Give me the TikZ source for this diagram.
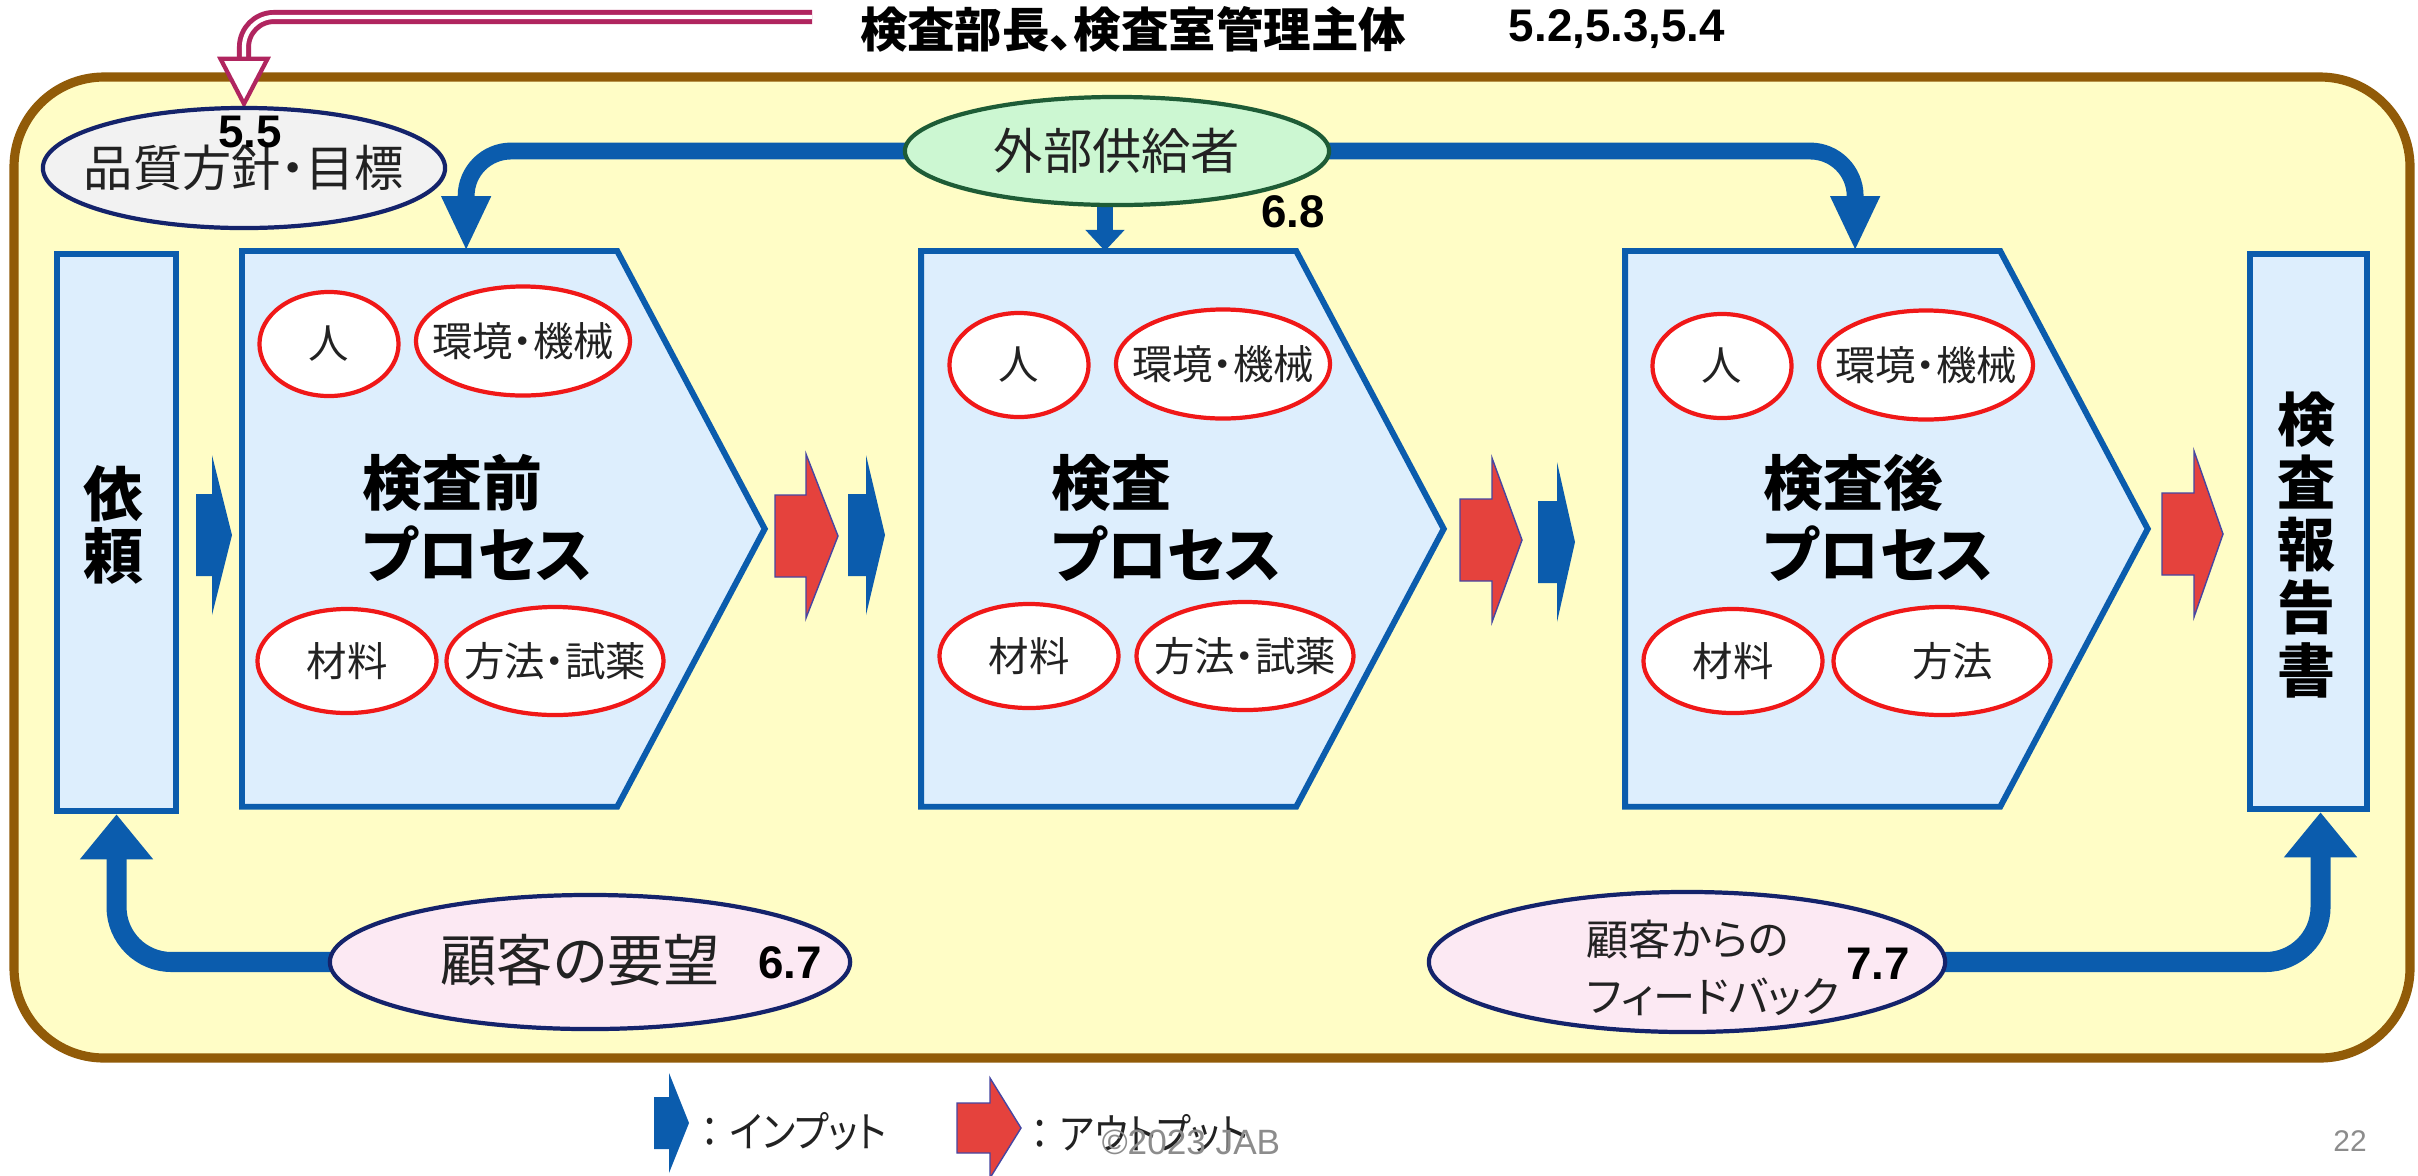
\documentclass[tikz,border=0pt]{standalone}
\usepackage{fontspec}
\setmainfont{Liberation Sans}
\newfontfamily\jp{Noto Sans CJK JP}[RawFeature=+palt]
\newfontfamily\jpn{Noto Sans CJK JP}[RawFeature=+palt, FakeStretch=0.88]
\usetikzlibrary{arrows.meta,calc,shapes.geometric}
\pgfdeclarelayer{bg}
\pgfdeclarelayer{conn}
\pgfsetlayers{bg,conn,main}
\definecolor{brownc}{HTML}{915B08}
\definecolor{yellowc}{HTML}{FFFDC6}
\definecolor{bluec}{HTML}{0B5CAD}
\definecolor{procfill}{HTML}{DDEEFD}
\definecolor{redc}{HTML}{F01818}
\definecolor{redarrc}{HTML}{E5423D}
\definecolor{navy}{HTML}{14236B}
\definecolor{grayfill}{HTML}{F2F2F2}
\definecolor{greenfill}{HTML}{CCF7D2}
\definecolor{greenc}{HTML}{1E5C36}
\definecolor{pinkfill}{HTML}{FCE9F3}
\definecolor{pinkc}{HTML}{B0255F}
\definecolor{grayt}{HTML}{8C8C8C}
\definecolor{textc}{HTML}{222222}
% block arrow: style, x left, y centre, body width, total width, body half height, head half height
\newcommand\blockarrow[7]{%
  \path[#1] (#2,{#3-#6}) -- ({#2+#4},{#3-#6}) -- ({#2+#4},{#3-#7}) -- ({#2+#5},#3)
    -- ({#2+#4},{#3+#7}) -- ({#2+#4},{#3+#6}) -- (#2,{#3+#6}) -- cycle;}
\newcommand\procshape[2]{%
  \node[procbody] (#1) at (#2,251) {};
  \draw[procline] (#1.north west) -- ([xshift=3.75cm]#1.north west) -- (#1.east)
    -- ([xshift=3.75cm]#1.south west) -- (#1.south west) -- cycle;}
\begin{document}
\begin{tikzpicture}[x=0.01cm,y=-0.01cm,
  outerbox/.style={draw=brownc, line width=2.6pt, fill=yellowc, rounded corners=0.9cm},
  procline/.style={draw=bluec, line width=1.7pt, fill=procfill, line join=miter},
  procbody/.style={anchor=north west, minimum width=5.21cm, minimum height=5.54cm, inner sep=0pt},
  sidebox/.style={draw=bluec, line width=1.7pt, fill=procfill, anchor=north west, inner sep=0pt},
  factor/.style={ellipse, draw=redc, line width=1.2pt, fill=white, inner xsep=-20pt, inner ysep=-8pt,
    text=textc, font=\jp\fontsize{11.5pt}{13pt}\selectfont},
  hito/.style={factor, minimum width=1.39cm, minimum height=1.04cm},
  env/.style={factor, minimum width=2.14cm, minimum height=1.09cm},
  mat/.style={factor, minimum width=1.79cm, minimum height=1.04cm},
  meth/.style={factor, minimum width=2.17cm, minimum height=1.08cm},
  bigell/.style={ellipse, line width=1.2pt, inner xsep=-20pt, inner ysep=-8pt, text=textc},
  proctext/.style={anchor=west, align=left, inner sep=0pt, font=\jp\bfseries\fontsize{17pt}{20.5pt}\selectfont},
  vtext/.style={align=center, inner sep=0pt, font=\jp\bfseries\fontsize{17pt}{17.7pt}\selectfont},
  num/.style={font=\bfseries\fontsize{13pt}{15pt}\selectfont, inner sep=0pt},
  titlet/.style={font=\jp\bfseries\fontsize{13.5pt}{15pt}\selectfont, inner sep=0pt},
  legend/.style={anchor=west, inner sep=0pt, text=textc, font=\jpn\fontsize{12pt}{14pt}\selectfont},
  bluearr/.style={fill=bluec},
  redarr/.style={fill=redarrc, draw=black!20!blue!45!gray, line width=0.4pt},
  bluecon/.style={draw=bluec, line width=4.8pt, rounded corners=0.45cm,
    -{Triangle[width=13pt,length=15.6pt]}},
  smallcon/.style={draw=bluec, line width=4.5pt, -{Triangle[width=10.8pt,length=6pt]}},
  bottomcon/.style={draw=bluec, line width=5.7pt, rounded corners=0.55cm,
    -{Triangle[width=20pt,length=12.8pt]}},
  pinkdouble/.style={draw=pinkc, double=white, line width=1.4pt, double distance=1.2pt, rounded corners=0.3cm}
]
\useasboundingbox (0,0) rectangle (2418,1175);
\begin{pgfonlayer}{bg}
  \fill[white] (0,0) rectangle (2418,1175);
  \draw[outerbox] (14,77) rectangle (2410,1058);
\end{pgfonlayer}

% title
\node[titlet] (title) at (1133,29) {検査部長、検査室管理主体};
\node[num] (n52) at (1617,29) {5.2,5.3,5.4};
\coordinate (pinkstart) at (812,17);

% policy and supplier
\node[bigell, draw=navy, fill=grayfill, minimum width=4.02cm, minimum height=1.2cm,
  font=\jp\fontsize{14pt}{16pt}\selectfont] (policy) at (244,168) {品質方針・目標};
\node[num] (n55) at (250,132) {5.5};
\node[bigell, draw=greenc, fill=greenfill, minimum width=4.24cm, minimum height=1.08cm,
  font=\jp\fontsize{14pt}{16pt}\selectfont] (supplier) at (1117,151) {外部供給者};
\node[num] (n68) at (1293,212) {6.8};

% side boxes
\node[sidebox, minimum width=1.19cm, minimum height=5.57cm] (req) at (54,251) {};
\node[vtext] (reqtext) at (113,525) {依\\頼};
\node[sidebox, minimum width=1.17cm, minimum height=5.55cm] (report) at (2247,251) {};
\node[vtext, font=\jp\bfseries\fontsize{16.5pt}{17.9pt}\selectfont] (reporttext) at (2306,545) {検\\査\\報\\告\\書};

% processes
\procshape{pre}{242}
\procshape{exam}{921}
\procshape{post}{1625}
\node[proctext] (pretext) at (362,518) {検査前\\プロセス};
\node[proctext] (examtext) at (1051,518) {検査\\プロセス};
\node[proctext] (posttext) at (1763,518) {検査後\\プロセス};

\node[hito] (pre-hito) at (329,344) {人};
\node[env]  (pre-env)  at (523,341) {環境・機械};
\node[mat]  (pre-mat)  at (347,661) {材料};
\node[meth] (pre-meth) at (555,661) {方法・試薬};
\node[hito] (exam-hito) at (1019,365) {人};
\node[env]  (exam-env)  at (1223,364) {環境・機械};
\node[mat]  (exam-mat)  at (1029,656) {材料};
\node[meth] (exam-meth) at (1245,656) {方法・試薬};
\node[hito] (post-hito) at (1722,366) {人};
\node[env]  (post-env)  at (1926,365) {環境・機械};
\node[mat]  (post-mat)  at (1733,661) {材料};
\node[meth] (post-meth) at (1942,661) {\hspace*{6pt}方法};

% input / output block arrows
\blockarrow{bluearr}{196}{535}{16}{36}{41}{80}
\blockarrow{redarr}{775}{536}{31}{63}{41}{82}
\blockarrow{bluearr}{848}{535}{18}{37}{41}{80}
\blockarrow{redarr}{1460}{540}{32}{62}{41}{82}
\blockarrow{bluearr}{1538}{542}{19}{37}{41}{80}
\blockarrow{redarr}{2162}{534}{32}{61}{41}{83}

% customer ellipses
\node[bigell, draw=navy, fill=pinkfill, minimum width=5.2cm, minimum height=1.34cm] (yobo) at (590,962) {};
\node[inner sep=0pt, text=textc, font=\jp\fontsize{16pt}{18pt}\selectfont] (yobotext) at (580,960) {顧客の要望};
\node[num] (n67) at (790,963) {6.7};
\node[bigell, draw=navy, fill=pinkfill, minimum width=5.16cm, minimum height=1.4cm] (fb) at (1687,962) {};
\node[anchor=west, align=left, inner sep=0pt, text=textc, font=\jp\fontsize{12pt}{16pt}\selectfont] (fbtext) at (1586,968) {顧客からの\\フィードバック};
\node[num] (n77) at (1878,964) {7.7};

% legend
\blockarrow{bluearr}{654}{1123}{15}{35}{26}{50}
\node[legend] (legin) at (700,1132) {：\hspace{3pt}インプット};
\blockarrow{redarr}{957}{1128}{33}{64}{25}{50}
\node[legend] (legout) at (1030,1134) {：\hspace{3pt}アウトプット};
\node[inner sep=0pt, text=grayt, font=\fontsize{10pt}{12pt}\selectfont] (copy) at (1191,1142) {©2023 JAB};
\node[inner sep=0pt, text=grayt, font=\fontsize{8.5pt}{10pt}\selectfont] (page) at (2350,1141) {22};

% connectors
\begin{pgfonlayer}{conn}
  \draw[bluecon] (supplier.center) -| ([xshift=2.24cm]pre.north west);
  \draw[bluecon] (supplier.center) -| ([xshift=2.30cm]post.north west);
  \draw[smallcon] ([xshift=-0.12cm]supplier.south) -- ([xshift=-0.12cm]supplier.south |- exam.north);
  \draw[bottomcon] (yobo.center) -| (req.south);
  \draw[bottomcon] (fb.center) -| ([xshift=0.12cm]report.south);
  \draw[pinkdouble] (pinkstart) -| ([yshift=0.45cm]policy.north);
  \draw[pinkc, line width=1.2pt, fill=white, line join=miter]
    ([xshift=-0.235cm,yshift=0.47cm]policy.north) -- ([xshift=0.235cm,yshift=0.47cm]policy.north)
    -- ([yshift=0.02cm]policy.north) -- cycle;
\end{pgfonlayer}
\end{tikzpicture}
\end{document}
